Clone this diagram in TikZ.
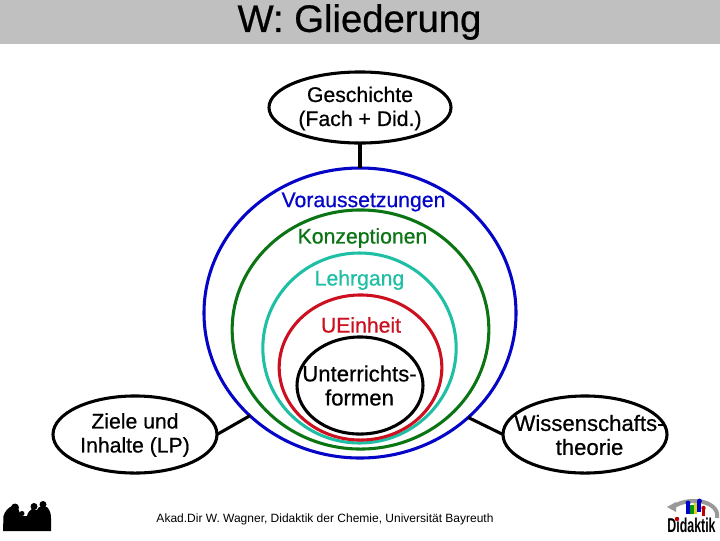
\documentclass[tikz,border=0pt]{standalone}
\usepackage{fontspec}
\setmainfont{Liberation Sans}
\newfontfamily\fatfont[FakeBold=0.6]{Liberation Sans}
\usetikzlibrary{shapes.geometric}
\definecolor{cblue}{HTML}{0505C8}
\definecolor{cgreen}{HTML}{0B7514}
\definecolor{cteal}{HTML}{1FBFA5}
\definecolor{cred}{HTML}{CC1020}
\definecolor{cgray}{HTML}{C0C0C0}
\tikzset{
  ring/.style={draw=#1,ellipse,line width=2.3pt,inner sep=0pt,outer sep=0pt},
  bubble/.style={draw=black,fill=white,ellipse,line width=2.3pt,inner sep=0pt,outer sep=0pt},
  lab/.style={font=\fatfont\fontsize{15.9pt}{18pt}\selectfont,inner sep=0pt,align=center,text=#1},
  lab/.default=black,
  widelab/.style={font=\fatfont\fontsize{16.6pt}{18pt}\selectfont,inner sep=0pt,align=center},
  link/.style={draw=black,line width=2.3pt},
}
\begin{document}
\begin{tikzpicture}[x=0.75pt,y=-0.75pt]
\useasboundingbox (0,0) rectangle (720,540);
\fill[white] (0,0) rectangle (720,540);
\fill[cgray] (0,0) rectangle (720,44);
\node[font=\fatfont\fontsize{28.7pt}{32pt}\selectfont,inner sep=0pt] (title) at (359.5,22) {W: Gliederung};
% rings
\node[ring=cblue,minimum width=234pt,minimum height=217.5pt] (r1) at (360,313) {};
\node[ring=cgreen,minimum width=192.5pt,minimum height=179.3pt] (r2) at (360.5,329.5) {};
\node[ring=cteal,minimum width=145pt,minimum height=142.5pt] (r3) at (359.5,348) {};
\node[ring=cred,minimum width=122pt,minimum height=108.8pt] (r4) at (360.5,367.5) {};
\node[bubble,minimum width=94.5pt,minimum height=72.8pt] (r5) at (360,385.5) {};
% outer bubbles
\node[bubble,minimum width=136.5pt,minimum height=53.3pt] (top) at (360,107.5) {};
\node[bubble,minimum width=123pt,minimum height=57.8pt] (left) at (135,434.5) {};
\node[bubble,minimum width=123pt,minimum height=57.8pt] (right) at (585,434.5) {};
\draw[link] (top.south) -- (r1.north);
\draw[link] (left.east) -- (r1.223.4);
\draw[link] (right.west) -- (r1.316.6);
% labels
\node[widelab] (t5) at (359.5,385.5) {Unterrichts-\\formen};
\node[lab] (ttop) at (360,108.5) {Geschichte\\(Fach + Did.)};
\node[lab] (tleft) at (135,435) {Ziele und\\Inhalte (LP)};
\node[widelab] (tright) at (589.5,435) {Wissenschafts-\\theorie};
\node[lab=cblue] (l1) at (363.5,202) {Voraussetzungen};
\node[lab=cgreen] (l2) at (362.5,238) {Konzeptionen};
\node[lab=cteal] (l3) at (359.5,280) {Lehrgang};
\node[lab=cred] (l4) at (361,325) {UEinheit};
\node[font=\fontsize{9pt}{11pt}\selectfont,inner sep=0pt] (foot) at (325,519) {Akad.Dir W. Wagner, Didaktik der Chemie, Universität Bayreuth};
% silhouette icon
\fill[black] (3,531) -- (3.5,516) .. controls (5,511) and (8,508) .. (12,506) -- (18,508) -- (21,516) -- (24,516) -- (27,516) .. controls (28,512) and (30,510) .. (32,509) -- (37,510) -- (39,507) -- (47,507) .. controls (50,510) and (51,514) .. (51,518) -- (51,531) -- cycle;
\fill[black] (15,507.5) circle[radius=4];
\fill[black] (34,506.5) circle[radius=3.5];
\fill[black] (43,504.5) circle[radius=3.5];
\fill[black] (22,513.5) circle[radius=2.5];
% Didaktik logo
\draw[gray!80,line width=3pt] (672,508) .. controls (680,500) and (702,498) .. (712,506) .. controls (716,509) and (718,513) .. (717,518);
\fill[gray!80] (667,507) -- (676,502) -- (676,512) -- cycle;
\fill[blue!80!black] (686,503) rectangle (690,514);
\fill[blue!80!black] (688,503) circle[radius=2.4];
\fill[green!60!black] (690,505) rectangle (694,514);
\fill[yellow!85!black] (694,503) rectangle (697,514);
\fill[blue!80!black] (697,501) rectangle (701,512);
\fill[blue!80!black] (699.5,501) circle[radius=2.4];
\fill[red!75!black] (702,508) rectangle (705,516);
\fill[red!75!black] (703.5,508) circle[radius=2.2];
\node[font=\fontsize{15pt}{16pt}\selectfont\bfseries,inner sep=0pt,xscale=.62,transform shape] (logo) at (691.5,525) {Didaktik};
\fill[red!75!black] (677,519) circle[radius=2.2];
\end{tikzpicture}
\end{document}
